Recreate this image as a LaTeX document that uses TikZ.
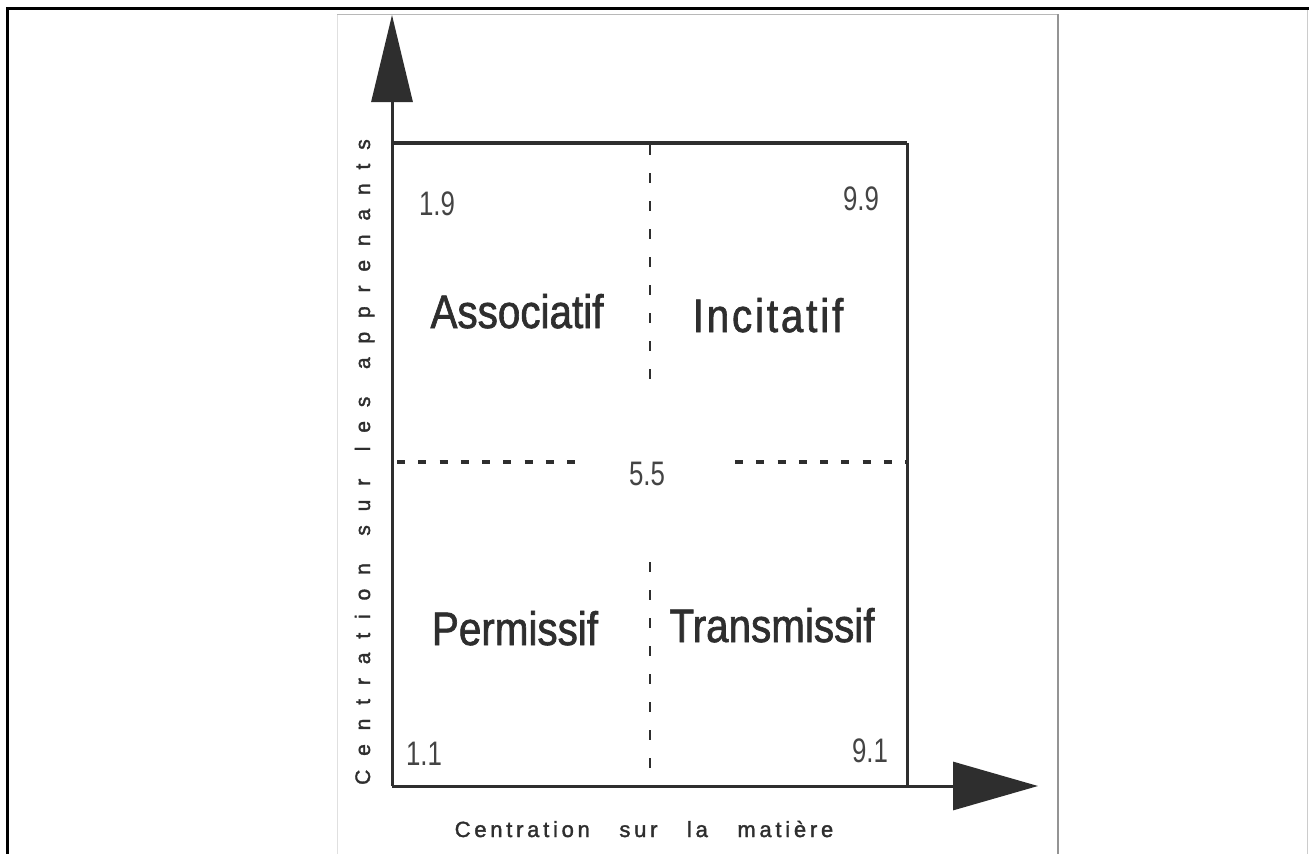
\documentclass[tikz,border=0pt]{standalone}
\usepackage{fontspec}
\setmainfont{Liberation Sans}
\newfontfamily\quadfont[FakeStretch=0.86,FakeBold=1.4]{Liberation Sans}
\newfontfamily\numfont[FakeStretch=0.76]{Liberation Sans}
\newfontfamily\xaxisfont[LetterSpace=17,WordSpace=3,FakeBold=1.6]{Liberation Sans}
\newfontfamily\yaxisfont[LetterSpace=66,WordSpace=1.4,FakeBold=1.6]{Liberation Sans}
\usetikzlibrary{arrows.meta}
\definecolor{ink}{HTML}{2E2E2E}
\definecolor{numink}{HTML}{444444}
\tikzset{
  quadlabel/.style={inner sep=0pt, anchor=base, text=ink, font=\quadfont\fontsize{47}{50}\selectfont},
  numlabel/.style={inner sep=0pt, anchor=base, text=numink, font=\numfont\fontsize{34}{36}\selectfont},
  axislabel/.style={inner sep=0pt, anchor=base, text=ink},
  axisline/.style={draw=ink, line width=3pt},
  boxline/.style={draw=ink, line width=3pt},
  middash/.style={draw=ink, line width=2.5pt, dash pattern=on 10pt off 18pt},
  crossdash/.style={draw=ink, line width=4pt, dash pattern=on 8pt off 13.25pt},
}
\begin{document}
\begin{tikzpicture}[x=1pt, y=-1pt]
  \useasboundingbox (0,0) rectangle (1309,854);
  \fill[white] (0,0) rectangle (1309,854);

  % outer frame
  \draw[black, line width=3pt] (6,8) -- (1309,8);
  \draw[black, line width=3pt] (7,8) -- (7,854);
  \draw[black!20, line width=1pt] (1307,10) -- (1307,854);

  % inner sheet
  \draw[black!12, line width=1pt] (337,14) -- (337,854);
  \draw[black!28, line width=1pt] (337,14) -- (1058,14);
  \draw[black!42, line width=2pt] (1058,14) -- (1058,854);

  % axes
  \coordinate (O) at (392,786);
  \coordinate (ytip) at (392,15);
  \coordinate (xtip) at (1038,786);
  \draw[axisline, -{Triangle[length=87pt, width=41pt]}, fill=ink] (O) -- (ytip);
  \draw[axisline, -{Triangle[length=85pt, width=48pt]}, fill=ink] (O) -- (xtip);

  % frame of the grid
  \coordinate (tl) at (392,143);
  \coordinate (tr) at (907,143);
  \coordinate (br) at (907,786);
  \draw[draw=ink, line width=4pt] (tl) -- (tr);
  \draw[boxline] (tr) -- (br);

  % dividing lines
  \coordinate (vt) at (650,145);
  \coordinate (vu) at (650,380);
  \coordinate (vl) at (650,562);
  \coordinate (vb) at (650,786);
  \draw[middash] (vt) -- (vu);
  \draw[middash] (vl) -- (vb);
  \coordinate (hl1) at (397,462);
  \coordinate (hl2) at (577,462);
  \coordinate (hr1) at (735,462);
  \coordinate (hr2) at (906,462);
  \draw[crossdash] (hl1) -- (hl2);
  \draw[crossdash] (hr1) -- (hr2);

  % quadrant names
  \node[quadlabel] (asso) at (517,328) {Associatif};
  \node[quadlabel] (inci) at (768,332) {\addfontfeature{LetterSpace=6}Incitatif};
  \node[quadlabel] (perm) at (515,645) {Permissif};
  \node[quadlabel] (tran) at (772,642) {Transmissif};

  % grid values
  \node[numlabel] (n19) at (437,215) {1.9};
  \node[numlabel] (n99) at (861,210) {9.9};
  \node[numlabel] (n11) at (424,765) {1.1};
  \node[numlabel] (n91) at (870,762) {9.1};
  \node[numlabel] (n55) at (647,485) {5.5};

  % axis titles
  \node[axislabel, font=\xaxisfont\fontsize{22}{24}\selectfont] (xlab) at (644,837) {Centration sur la matière};
  \node[axislabel, font=\yaxisfont\fontsize{21}{23}\selectfont, rotate=90] (ylab) at (370,462) {Centration sur les apprenants};
\end{tikzpicture}
\end{document}
